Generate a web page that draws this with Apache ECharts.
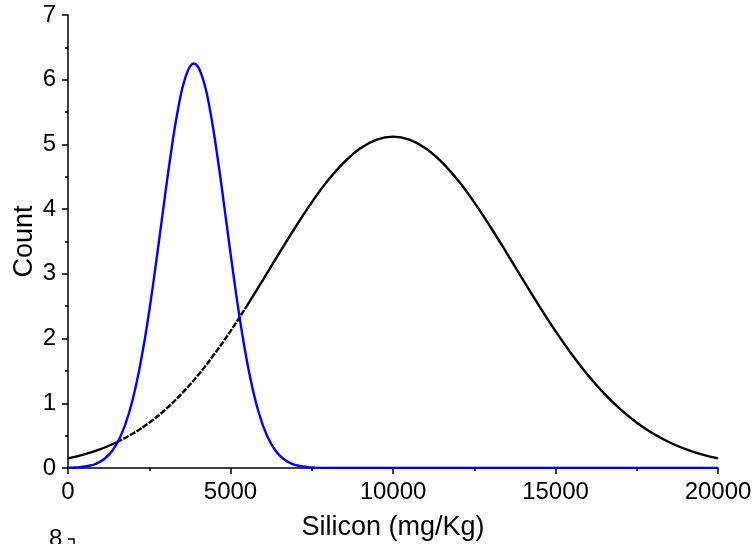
<!DOCTYPE html>
<html>
<head>
<meta charset="utf-8">
<script src="https://cdn.jsdelivr.net/npm/echarts@6/dist/echarts.min.js"></script>
<style>html,body{margin:0;padding:0;background:#fff}#c{width:756px;height:544px}</style>
</head>
<body>
<div id="c"></div>
<script>
// Black curve (Silicon, wide distribution)
const blackX = [0,500,1000,1500,2000,2500,3000,3500,4000,4500,5000,5500,6000,6500,7000,7500,8000,8500,9000,9500,10000,10500,11000,11500,12000,12500,13000,13500,14000,14500,15000,15500,16000,16500,17000,17500,18000,18500,19000,19500,20000];
const blackY = [0.149,0.211,0.292,0.398,0.533,0.700,0.905,1.150,1.433,1.757,2.115,2.502,2.908,3.320,3.724,4.105,4.445,4.728,4.942,5.075,5.120,5.075,4.942,4.728,4.445,4.105,3.724,3.320,2.908,2.502,2.115,1.757,1.433,1.150,0.905,0.700,0.533,0.398,0.292,0.211,0.149];
// Blue curve (narrow distribution)
const blueX = [0,125,375,625,875,1125,1375,1625,1875,2125,2375,2625,2875,3125,3375,3625,3875,4125,4375,4625,4875,5125,5375,5625,5875,6125,6375,6625,6875,7125,7375,7625,7875,8500,10000,15000,20000];
const blueY = [0.003,0.006,0.014,0.032,0.069,0.143,0.275,0.497,0.846,1.352,2.029,2.861,3.791,4.717,5.516,6.057,6.250,6.057,5.516,4.717,3.791,2.861,2.029,1.352,0.846,0.497,0.275,0.143,0.069,0.032,0.014,0.006,0.002,0,0,0,0];
// Range of the black curve drawn with a fine dash
const dashFrom = 1500, dashTo = 5500;
const xTicks = {min:0, max:20000, interval:5000};
const yTicks = {min:0, max:7, interval:1};

const pairs = (xs, ys) => xs.map((x,i)=>[x, ys[i]]);
const blackAll = pairs(blackX, blackY);
const bLeft = blackAll.filter(p=>p[0]<=dashFrom);
const bMid = blackAll.filter(p=>p[0]>=dashFrom && p[0]<=dashTo);
const bRight = blackAll.filter(p=>p[0]>=dashTo);

const FONT = "'Liberation Sans', Arial, sans-serif";
const chart = echarts.init(document.getElementById('c'), null, {renderer:'canvas'});
const axisCommon = {
  axisLine:{show:true, onZero:false, lineStyle:{color:'#000', width:1.5}},
  axisTick:{show:true, inside:false, length:6, lineStyle:{color:'#000', width:1.5}},
  minorTick:{show:true, splitNumber:2, length:3, lineStyle:{color:'#000', width:1.5}},
  splitLine:{show:false},
  axisLabel:{color:'#000', fontSize:24, fontFamily:FONT, formatter:(v)=>String(v)},
  nameTextStyle:{color:'#000', fontSize:27, fontFamily:FONT},
  nameLocation:'middle',
  nameMoveOverlap:false
};
const lineSeries = (data, color, type) => ({
  type:'line', data, smooth:0.4, showSymbol:false, symbol:'none',
  lineStyle:{color, width:2.4, type: type||'solid'}, animation:false, z: color==='#0000ff'?5:3
});
chart.setOption({
  animation:false,
  grid:{left:68, right:38, top:15, bottom:76, outerBoundsMode:'none', containLabel:false},
  xAxis:Object.assign({}, axisCommon, {type:'value', min:xTicks.min, max:xTicks.max, interval:xTicks.interval,
    name:'Silicon (mg/Kg)', nameGap:46,
    axisLabel:Object.assign({}, axisCommon.axisLabel, {margin:12})}),
  yAxis:Object.assign({}, axisCommon, {type:'value', min:yTicks.min, max:yTicks.max, interval:yTicks.interval,
    name:'Count', nameGap:30,
    axisLabel:Object.assign({}, axisCommon.axisLabel, {margin:12})}),
  series:[
    lineSeries(bLeft, '#000000'),
    lineSeries(bMid, '#000000', [6,1.5]),
    lineSeries(bRight, '#000000'),
    lineSeries(pairs(blueX, blueY), '#0000ff')
  ],
  graphic:[
    {type:'text', left:49, top:527, style:{text:'8', font:"24px "+FONT, fill:'#000'}},
    {type:'polyline', shape:{points:[[68,539],[74,539],[74,546]]}, style:{stroke:'#000', lineWidth:1.5, fill:null}}
  ]
});
</script>
</body>
</html>
